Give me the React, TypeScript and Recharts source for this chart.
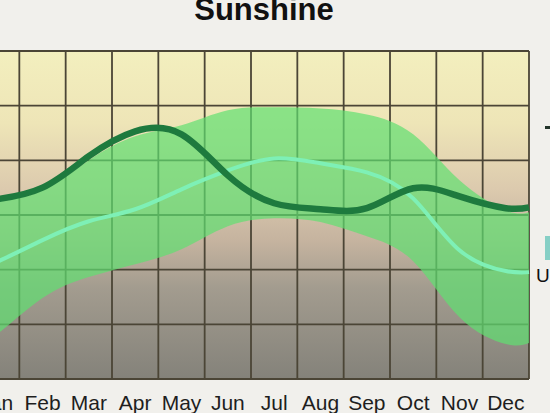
import { ComposedChart, Area, Line, XAxis, YAxis, CartesianGrid } from 'recharts';

const MONTHS = ['Jan', 'Feb', 'Mar', 'Apr', 'May', 'Jun', 'Jul', 'Aug', 'Sep', 'Oct', 'Nov', 'Dec'];
// month number, 1 = Jan; the .5 ends are the plot's left and right edges
const X_VALUES = [0.5, 1, 2, 3, 4, 5, 6, 7, 8, 9, 10, 11, 12, 12.5];
const CITY = [6.5, 6.58, 7.0, 8.15, 9.06, 8.95, 7.45, 6.43, 6.21, 6.25, 6.98, 6.68, 6.25, 6.28];
const US_AVG = [3.98, 4.27, 5.08, 5.77, 6.21, 6.94, 7.63, 8.07, 7.89, 7.56, 6.61, 4.71, 3.95, 3.91];
const US_HIGH = [6.39, 6.5, 6.9, 8.0, 8.88, 9.28, 9.83, 9.94, 9.9, 9.68, 8.95, 7.27, 6.17, 6.1];
const US_LOW = [1.24, 1.61, 2.96, 3.73, 4.2, 4.75, 5.59, 5.88, 5.74, 5.22, 4.31, 2.26, 1.28, 1.32];
const MONTH_TICKS = [1, 2, 3, 4, 5, 6, 7, 8, 9, 10, 11, 12];
const GRID_TICKS = [0.5, 1.5, 2.5, 3.5, 4.5, 5.5, 6.5, 7.5, 8.5, 9.5, 10.5, 11.5, 12.5];
const Y_TICKS = [0, 2, 4, 6, 8, 10, 12];

const data = X_VALUES.map((x, i) => ({
  x,
  city: CITY[i],
  us: US_AVG[i],
  band: [US_LOW[i], US_HIGH[i]],
}));

const GRID = '#4b4536';
const FONT = '"Liberation Sans", Arial, sans-serif';

export default function App() {
  return (
    <div
      style={{
        position: 'absolute',
        left: 0,
        top: 0,
        width: 550,
        height: 413,
        overflow: 'hidden',
        background: '#f1f0ec',
        fontFamily: FONT,
      }}
    >
      <div
        style={{
          position: 'absolute',
          left: 0,
          top: -8,
          width: 528,
          textAlign: 'center',
          fontSize: 31,
          fontWeight: 'bold',
          color: '#111',
        }}
      >
        Sunshine
      </div>

      <div style={{ position: 'absolute', left: -40, top: 0 }}>
        <ComposedChart
          width={600}
          height={413}
          data={data}
          margin={{ top: 51, right: 31, bottom: 4, left: 13 }}
        >
          <defs>
            <linearGradient id="plotBg" x1="0" y1="0" x2="0" y2="1">
              <stop offset="0%" stopColor="#f3efbe" />
              <stop offset="22%" stopColor="#eee5b7" />
              <stop offset="42%" stopColor="#dccaae" />
              <stop offset="58%" stopColor="#c5b39f" />
              <stop offset="72%" stopColor="#a39c8f" />
              <stop offset="100%" stopColor="#84827a" />
            </linearGradient>
          </defs>
          <CartesianGrid
            xAxisId="grid"
            fill="url(#plotBg)"
            fillOpacity={1}
            stroke={GRID}
            strokeWidth={1.8}
          />
          <XAxis
            xAxisId="grid"
            dataKey="x"
            type="number"
            domain={[0.5, 12.5]}
            ticks={GRID_TICKS}
            interval={0}
            height={0}
            tick={() => <g />}
            tickSize={6}
            axisLine={false}
            tickLine={{ stroke: GRID, strokeWidth: 1.8 }}
          />
          <XAxis
            xAxisId="month"
            dataKey="x"
            type="number"
            domain={[0.5, 12.5]}
            ticks={MONTH_TICKS}
            interval={0}
            tickFormatter={(v) => MONTHS[v - 1]}
            height={30}
            tickSize={0}
            tickLine={false}
            axisLine={false}
            tickMargin={16}
            tick={{ fill: '#1e1e1e', fontSize: 21, fontFamily: FONT }}
          />
          <YAxis hide domain={[0, 12]} ticks={Y_TICKS} />
          <Area
            xAxisId="grid"
            dataKey="band"
            type="natural"
            stroke="none"
            fill="#5fe070"
            fillOpacity={0.7}
            isAnimationActive={false}
          />
          <Line
            xAxisId="grid"
            dataKey="us"
            type="natural"
            stroke="#7ef0b6"
            strokeWidth={4}
            dot={false}
            isAnimationActive={false}
          />
          <Line
            xAxisId="grid"
            dataKey="city"
            type="natural"
            stroke="#1e7a3e"
            strokeWidth={6.5}
            dot={false}
            isAnimationActive={false}
          />
        </ComposedChart>
      </div>

      <div style={{ position: 'absolute', left: 545, top: 126, width: 12, height: 3, background: '#23352a' }} />
      <div style={{ position: 'absolute', left: 545, top: 236, width: 14, height: 24, background: '#86cfc5' }} />
      <div style={{ position: 'absolute', left: 536, top: 265, fontSize: 19, color: '#111' }}>U.S.</div>
    </div>
  );
}
